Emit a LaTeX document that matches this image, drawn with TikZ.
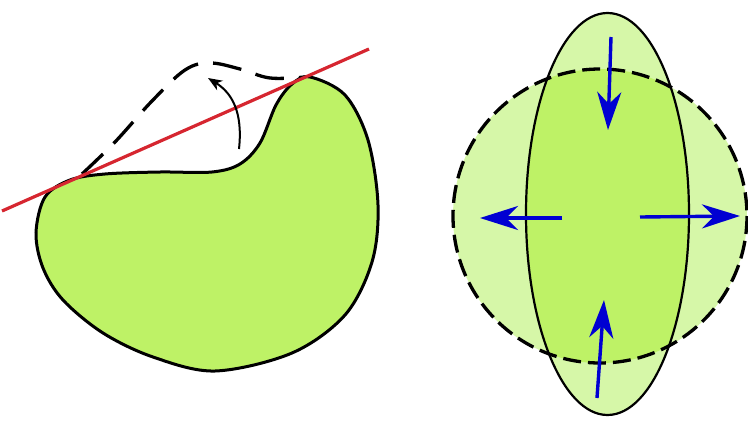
\documentclass[tikz,border=0pt]{standalone}
\usetikzlibrary{arrows.meta}
\definecolor{blobgreen}{RGB}{190,242,102}
\definecolor{lightgreen}{RGB}{214,247,168}
\definecolor{tanred}{RGB}{214,38,48}
\definecolor{arrblue}{RGB}{0,0,210}
\tikzset{
  outline/.style={draw=black, line width=3pt},
  hull/.style={draw=black, line width=3.3pt, dash pattern=on 29pt off 15pt},
  circhull/.style={draw=black, line width=3.3pt, dash pattern=on 18pt off 7pt},
  bluearrow/.style={draw=arrblue, line width=3.4pt, -{Stealth[length=38pt,width=24pt,inset=12pt]}},
}
\begin{document}
\begin{tikzpicture}[x=1pt,y=-1pt]
\useasboundingbox (0,0) rectangle (748,421);
% ---- left blob ----
\path[outline, fill=blobgreen] plot[smooth cycle, tension=0.55] coordinates {
  (310,77) (345,95) (368,140) (378,205) (372,262) (345,315) (292,353) (215,371)
  (153,357) (103,333) (63,300) (43,268) (36,233) (45,197) (70,180) (105,174) (160,172)
  (212,172) (240,164) (260,143) (276,105) (292,84)};
\draw[hull] plot[smooth, tension=0.6] coordinates {
  (82,174) (115,142) (152,101) (185,70) (210,63) (240,69) (270,78) (305,77)};
\draw[tanred, line width=3.2pt] (2,211) -- (369,49);
\draw[line width=2pt, -{Stealth[length=14pt,width=11pt,inset=4pt]}] (239,149) .. controls (243,112) and (232,93) .. (208,78);
% ---- right figure ----
\fill[lightgreen] (600,216) circle (147);
\fill[lightgreen] (607.5,214) ellipse (81.5 and 201);
\begin{scope}
  \clip (607.5,214) ellipse (81.5 and 201);
  \fill[blobgreen] (600,216) circle (147);
\end{scope}
\draw[black, line width=2.2pt] (607.5,214) ellipse (81.5 and 201);
\draw[circhull] (600,216) circle (147);
\draw[bluearrow] (611,37) -- (608,130);
\draw[bluearrow] (562,218) -- (480,218);
\draw[bluearrow] (640,217) -- (740,216);
\draw[bluearrow] (597,398) -- (604,300);
\end{tikzpicture}
\end{document}
